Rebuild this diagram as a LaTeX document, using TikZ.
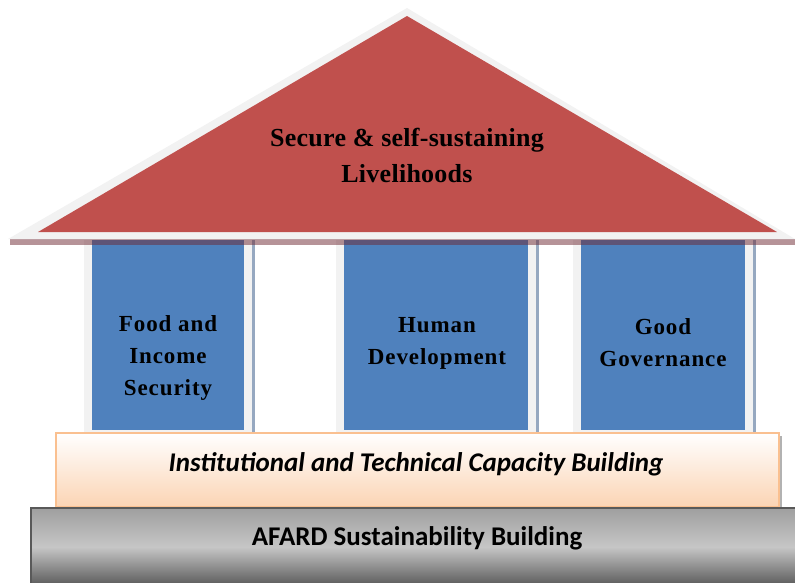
\documentclass[tikz,border=0pt]{standalone}
\usepackage{fontspec}
\setmainfont{Liberation Serif}
\newfontfamily\calibri{Carlito}
\usetikzlibrary{positioning}

\definecolor{roofred}{RGB}{192,80,77}
\definecolor{pillarblue}{RGB}{79,129,189}
\definecolor{edgegray}{RGB}{242,242,242}
\definecolor{pillarshade}{RGB}{150,168,192}
\definecolor{peach}{RGB}{251,212,180}
\definecolor{peachedge}{RGB}{250,192,144}

\begin{document}
\begin{tikzpicture}[x=1pt, y=-1pt,
    title/.style={font=\addfontfeature{LetterSpace=1}\fontsize{26}{36}\selectfont\bfseries,
      align=center},
    pillartext/.style={font=\addfontfeature{LetterSpace=4}\fontsize{23}{32}\selectfont\bfseries,
      align=center},
    bartext/.style={font=\calibri\fontsize{27}{30}\selectfont\bfseries}
  ]
  \useasboundingbox (0,0) rectangle (795,582);

  % pillars: light frame, blue face, thin shadow on the right
  \foreach \l/\r in {84/252, 336/536, 573/753} {
    \fill[edgegray] (\l,240) rectangle (\r,433);
    \fill[pillarblue] (\l+8,240) rectangle (\r-8,430);
    \fill[pillarshade] (\r,240) rectangle (\r+3,433);
  }

  % roof with its shadow
  \fill[fill={rgb,255:red,110;green,40;blue,50}, opacity=0.5] (10,239) rectangle (795,245);
  \fill[edgegray] (407,8) -- (8,239) -- (795,239) -- cycle;
  \fill[roofred] (407,16) -- (38,232) -- (777,232) -- cycle;

  \node[title] (roof) at (407,155) {Secure \& self-sustaining\\Livelihoods};

  \node[pillartext] (food) at (168,358) {Food and\\Income\\Security};
  \node[pillartext] (human) at (437,343) {Human\\Development};
  \node[pillartext] (governance) at (663,343) {Good\\Governance};

  % capacity layer
  \fill[gray!60] (779,436) rectangle (782,507);
  \draw[peachedge, line width=2pt, top color=white, bottom color=peach]
    (56,433) rectangle (779,507);
  \node[bartext, font=\calibri\fontsize{27}{30}\selectfont\bfseries\itshape] (capacity)
    at (416,464) {Institutional and Technical Capacity Building};

  % foundation
  \draw[gray!70!black, line width=2.5pt, top color=gray!75, bottom color=gray!70!black,
    middle color=gray!45] (31,508) rectangle (800,586);
  \node[bartext] (afard) at (417,538) {AFARD Sustainability Building};
\end{tikzpicture}
\end{document}
